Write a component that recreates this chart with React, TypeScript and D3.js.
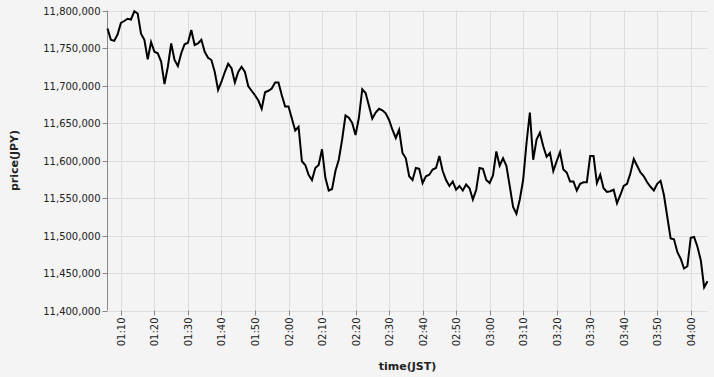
import React from "react";
import * as d3 from "d3";

// Sampling: one price per minute starting at 01:06 (JST)
const START_HOUR = 1;
const START_MINUTE = 6;

const prices: number[] = [
  11776000, 11761000, 11759500, 11768000, 11783500, 11786000, 11789000, 11788000, 11799000, 11796000,
  11769000, 11761000, 11735000, 11758000, 11745000, 11743000, 11732000, 11702000, 11725000, 11756000,
  11734000, 11726000, 11743000, 11755000, 11757000, 11774000, 11754000, 11756000, 11761000, 11745000,
  11737000, 11734000, 11718000, 11694000, 11705000, 11718000, 11729000, 11723000, 11704000, 11718000,
  11725000, 11718000, 11699000, 11693000, 11687000, 11680000, 11669000, 11691000, 11693000, 11696000,
  11704000, 11704000, 11687000, 11672000, 11672000, 11656000, 11640000, 11645000, 11599000, 11594000,
  11581000, 11574000, 11590000, 11594000, 11615000, 11577000, 11560000, 11562000, 11586000, 11601000,
  11628000, 11660000, 11657000, 11650000, 11634000, 11657000, 11695000, 11690000, 11673000, 11656000,
  11664000, 11669000, 11667000, 11663000, 11654000, 11641000, 11630000, 11641000, 11610000, 11603000,
  11579000, 11574000, 11590000, 11589000, 11570000, 11579000, 11581000, 11588000, 11590000, 11606000,
  11586000, 11574000, 11566000, 11572000, 11561000, 11566000, 11560000, 11568000, 11563000, 11548000,
  11561000, 11590000, 11589000, 11574000, 11570000, 11580000, 11612000, 11593000, 11603000, 11593000,
  11566000, 11538000, 11529000, 11548000, 11574000, 11623000, 11664000, 11601000, 11628000, 11637000,
  11619000, 11605000, 11610000, 11586000, 11599000, 11611000, 11588000, 11584000, 11572000, 11572000,
  11560000, 11569000, 11571000, 11571000, 11606000, 11606000, 11570000, 11581000, 11563000, 11558000,
  11559000, 11561000, 11543000, 11554000, 11566000, 11569000, 11583000, 11602000, 11593000, 11584000,
  11579000, 11571000, 11565000, 11560000, 11569000, 11573000, 11554000, 11525000, 11496000, 11495000,
  11478000, 11469000, 11456000, 11459000, 11497000, 11498000, 11485000, 11467000, 11431000, 11439000,
];

const yDomain: [number, number] = [11400000, 11800000];
const yTickValues: number[] = [11400000, 11450000, 11500000, 11550000, 11600000, 11650000, 11700000, 11750000, 11800000];
const xTitle = "time(JST)";
const yTitle = "price(JPY)";

const W = 714;
const H = 377;
const FONT = "DejaVu Sans, sans-serif";

export default function App() {
  const start = new Date(2024, 0, 1, START_HOUR, START_MINUTE, 0);
  const data = prices.map((p, i) => ({ t: d3.timeMinute.offset(start, i), p }));

  const x = d3
    .scaleTime()
    .domain(d3.extent(data, (d) => d.t) as [Date, Date])
    .range([107.5, 707.5]);
  const y = d3.scaleLinear().domain(yDomain).range([310.5, 10.5]);

  const xTicks = x.ticks(d3.timeMinute.every(10)!);
  const fmt = d3.timeFormat("%H:%M");
  const yFmt = d3.format(",");

  const line = d3
    .line<{ t: Date; p: number }>()
    .x((d) => x(d.t))
    .y((d) => y(d.p));

  const [x0, x1] = x.range();
  const [yb, yt] = y.range();

  return (
    <svg
      width={W}
      height={H}
      style={{ position: "absolute", left: 0, top: 0, background: "#f4f4f4" }}
      fontFamily={FONT}
    >
      <rect x={0} y={0} width={W} height={H} fill="#f4f4f4" />
      {/* grid */}
      <g stroke="#dddddd" strokeWidth={1}>
        {yTickValues.map((v) => (
          <line key={"gy" + v} x1={x0} x2={x1} y1={Math.round(y(v)) + 0.5} y2={Math.round(y(v)) + 0.5} />
        ))}
        {xTicks.map((t) => (
          <line key={"gx" + t.getTime()} x1={Math.round(x(t)) + 0.5} x2={Math.round(x(t)) + 0.5} y1={yt} y2={yb} />
        ))}
      </g>
      {/* y axis */}
      <line x1={x0} x2={x0} y1={yt} y2={yb} stroke="#888" strokeWidth={1} />
      {yTickValues.map((v) => {
        const yy = Math.round(y(v)) + 0.5;
        return (
          <g key={"yt" + v}>
            <line x1={x0 - 5} x2={x0} y1={yy} y2={yy} stroke="#888" />
            <text x={x0 - 7} y={yy} dy="0.32em" textAnchor="end" fontSize={10} fill="#222">
              {yFmt(v)}
            </text>
          </g>
        );
      })}
      {/* x axis */}
      {xTicks.map((t) => {
        const xx = Math.round(x(t)) + 0.5;
        return (
          <g key={"xt" + t.getTime()}>
            <line x1={xx} x2={xx} y1={yb} y2={yb + 5} stroke="#888" />
            <text
              transform={`translate(${xx},${yb + 7}) rotate(-90)`}
              textAnchor="end"
              dy="0.32em"
              fontSize={10}
              fill="#222"
            >
              {fmt(t)}
            </text>
          </g>
        );
      })}
      {/* line */}
      <path d={line(data) || ""} fill="none" stroke="#000" strokeWidth={2} strokeLinejoin="miter" />
      {/* titles */}
      <text x={(x0 + x1) / 2} y={370} textAnchor="middle" fontSize={11} fontWeight="bold" fill="#222">
        {xTitle}
      </text>
      <text
        transform={`translate(18,${(yt + yb) / 2}) rotate(-90)`}
        textAnchor="middle"
        fontSize={11}
        fontWeight="bold"
        fill="#222"
      >
        {yTitle}
      </text>
    </svg>
  );
}
